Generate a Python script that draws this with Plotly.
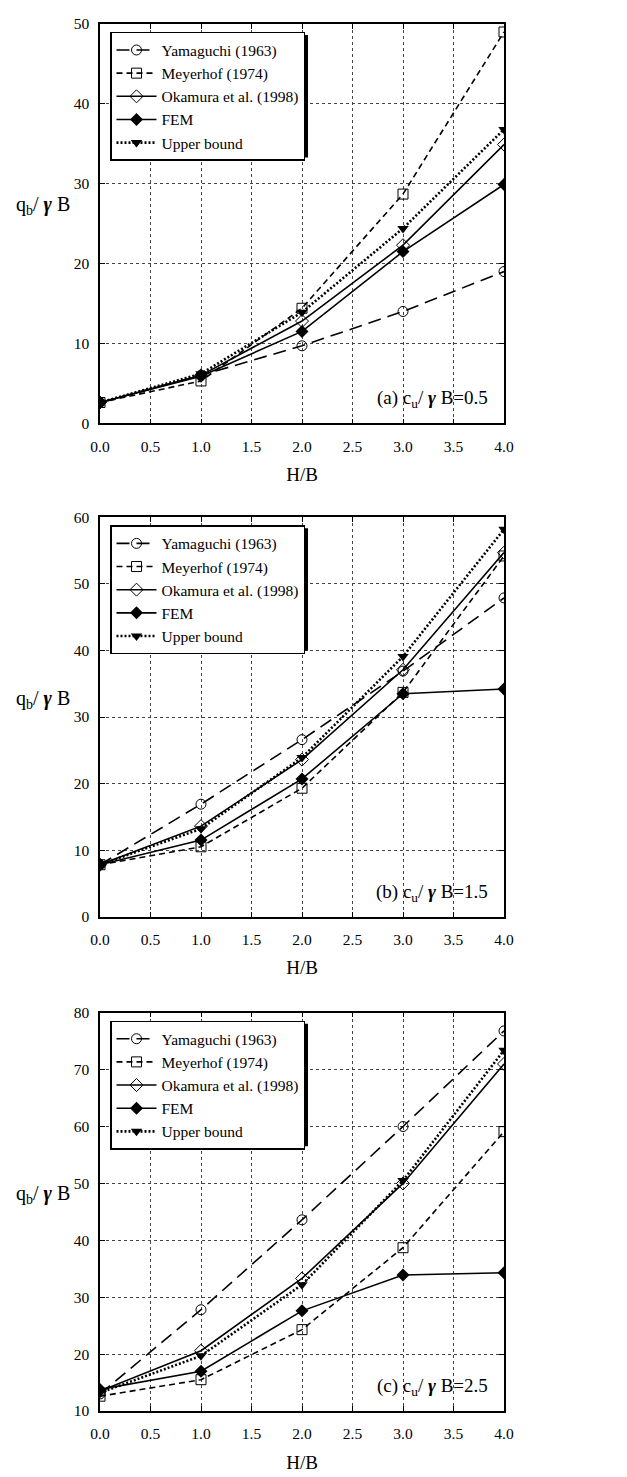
import plotly.graph_objects as go

# ---------------- data ----------------
x_hb = [0.0, 1.0, 2.0, 3.0, 4.0]
series_names = ["Yamaguchi (1963)", "Meyerhof (1974)", "Okamura et al. (1998)", "FEM", "Upper bound"]

# panel (a) cu/γB = 0.5
a_yamaguchi = [2.6, 6.0, 9.7, 14.0, 19.0]
a_meyerhof = [2.6, 5.3, 14.4, 28.7, 49.0]
a_okamura = [2.6, 6.0, 12.8, 22.3, 34.9]
a_fem = [2.6, 5.9, 11.5, 21.5, 29.9]
a_upper = [2.6, 6.2, 13.9, 24.4, 36.8]

# panel (b) cu/γB = 1.5
b_yamaguchi = [7.8, 16.9, 26.6, 36.9, 47.9]
b_meyerhof = [7.8, 10.5, 19.3, 33.7, 54.2]
b_okamura = [7.8, 13.6, 23.6, 37.1, 54.7]
b_fem = [7.8, 11.5, 20.7, 33.5, 34.2]
b_upper = [7.8, 13.2, 23.9, 39.1, 58.2]

# panel (c) cu/γB = 2.5
c_yamaguchi = [13.0, 27.8, 43.6, 60.0, 76.8]
c_meyerhof = [12.6, 15.5, 24.3, 38.7, 59.1]
c_okamura = [13.5, 20.6, 33.3, 50.0, 71.0]
c_fem = [13.8, 17.0, 27.6, 33.9, 34.3]
c_upper = [13.2, 19.7, 32.2, 50.5, 73.4]

panel_labels = ["(a) c<sub>u</sub>/ <b><i>γ</i></b> B=0.5",
                "(b) c<sub>u</sub>/ <b><i>γ</i></b> B=1.5",
                "(c) c<sub>u</sub>/ <b><i>γ</i></b> B=2.5"]
y_ranges = [[0, 50], [0, 60], [10, 80]]
x_ticks = [0.0, 0.5, 1.0, 1.5, 2.0, 2.5, 3.0, 3.5, 4.0]

panels = [
    [a_yamaguchi, a_meyerhof, a_okamura, a_fem, a_upper],
    [b_yamaguchi, b_meyerhof, b_okamura, b_fem, b_upper],
    [c_yamaguchi, c_meyerhof, c_okamura, c_fem, c_upper],
]

# ---------------- styles ----------------
FONT = "Liberation Serif"
styles = [
    dict(line=dict(color="black", width=1.6, dash="13px,7px"),
         marker=dict(symbol="circle-open", size=10, color="black", line=dict(width=1))),
    dict(line=dict(color="black", width=1.6, dash="6px,4px"),
         marker=dict(symbol="square-open", size=10, color="black", line=dict(width=1))),
    dict(line=dict(color="black", width=1.6),
         marker=dict(symbol="diamond-open", size=10, color="black", line=dict(width=1))),
    dict(line=dict(color="black", width=1.6),
         marker=dict(symbol="diamond", size=10, color="black")),
    dict(line=dict(color="black", width=2.6, dash="2px,2px"),
         marker=dict(symbol="triangle-down", size=10, color="black")),
]

# page pixel geometry (body margin of 8px shifts the figure)
OFF = 8
W, H = 619, 1469
ML, MR, MT, MB = 92, 123, 7, 62
PW = W - ML - MR
PH = H - MT - MB


def py_paper(page_py):
    return (H - MB - (page_py - OFF)) / PH


def px_paper(page_px):
    return (page_px - OFF - ML) / PW


plot_px = [(15, 418), (513, 916), (1013, 1415)]  # page top, bottom of each plot area

fig = go.Figure()
layout = dict(
    width=W, height=H,
    margin=dict(l=ML, r=MR, t=MT, b=MB),
    plot_bgcolor="white", paper_bgcolor="white",
    font=dict(family=FONT, color="black"),
    showlegend=True,
)

annotations = []
shapes = []
LEG_FS = 15.5
LEG_W = 195
LEG_H = 5 * (LEG_FS * 1.3 + 3) + 8
for i, series in enumerate(panels):
    k = "" if i == 0 else str(i + 1)
    xa, ya, lg = "x" + k, "y" + k, "legend" + k
    for name, vals, st in zip(series_names, series, styles):
        fig.add_trace(go.Scatter(
            x=x_hb, y=vals, name=name, mode="lines+markers",
            line=st["line"], marker=st["marker"],
            xaxis=xa, yaxis=ya, legend=lg,
        ))
    top, bot = plot_px[i]
    dom = [py_paper(bot), py_paper(top)]
    axis_common = dict(showline=True, linecolor="black", linewidth=1.5, mirror="ticks",
                       ticks="inside", ticklen=5, tickcolor="black",
                       showgrid=True, gridcolor="#444", griddash="dot", gridwidth=1,
                       zeroline=False,
                       tickfont=dict(family=FONT, size=15.5, color="black"))
    layout["xaxis" + k] = dict(axis_common, domain=[0, 1], anchor=ya, range=[0, 4],
                               tickvals=x_ticks, ticktext=[f"{v:.1f}" for v in x_ticks],
                               ticklabelstandoff=8,
                               title=dict(text="H/B", font=dict(family=FONT, size=19), standoff=14))
    layout["yaxis" + k] = dict(axis_common, domain=dom, anchor=xa, range=y_ranges[i], dtick=10,
                               ticklabelstandoff=6)
    # legend box
    leg_top = top + 8
    leg_left = 110
    layout[lg] = dict(x=px_paper(leg_left), y=py_paper(leg_top), xanchor="left", yanchor="top",
                      bgcolor="white", bordercolor="black", borderwidth=1.5,
                      font=dict(family=FONT, size=LEG_FS, color="black"),
                      itemwidth=40, tracegroupgap=0)
    # legend drop shadow
    shapes.append(dict(type="rect", xref="paper", yref="paper", layer="above",
                       x0=px_paper(leg_left + 3), x1=px_paper(leg_left + LEG_W + 3),
                       y0=py_paper(leg_top + LEG_H + 3), y1=py_paper(leg_top + 3),
                       fillcolor="black", line=dict(width=0)))
    # y axis title (horizontal)
    yc = (top + bot) / 2 - 18
    annotations.append(dict(xref="paper", yref="paper", x=px_paper(72), y=py_paper(yc),
                            xanchor="right", yanchor="middle", showarrow=False,
                            text="q<sub>b</sub>/ <b><i>γ</i></b> B",
                            font=dict(family=FONT, size=20, color="black")))
    # panel label
    annotations.append(dict(xref=xa + " domain", yref=ya + " domain", x=0.965, y=0.025,
                            xanchor="right", yanchor="bottom", showarrow=False,
                            text=panel_labels[i], font=dict(family=FONT, size=19, color="black")))

layout["annotations"] = annotations
layout["shapes"] = shapes
fig.update_layout(**layout)
fig.write_html("out.html")
